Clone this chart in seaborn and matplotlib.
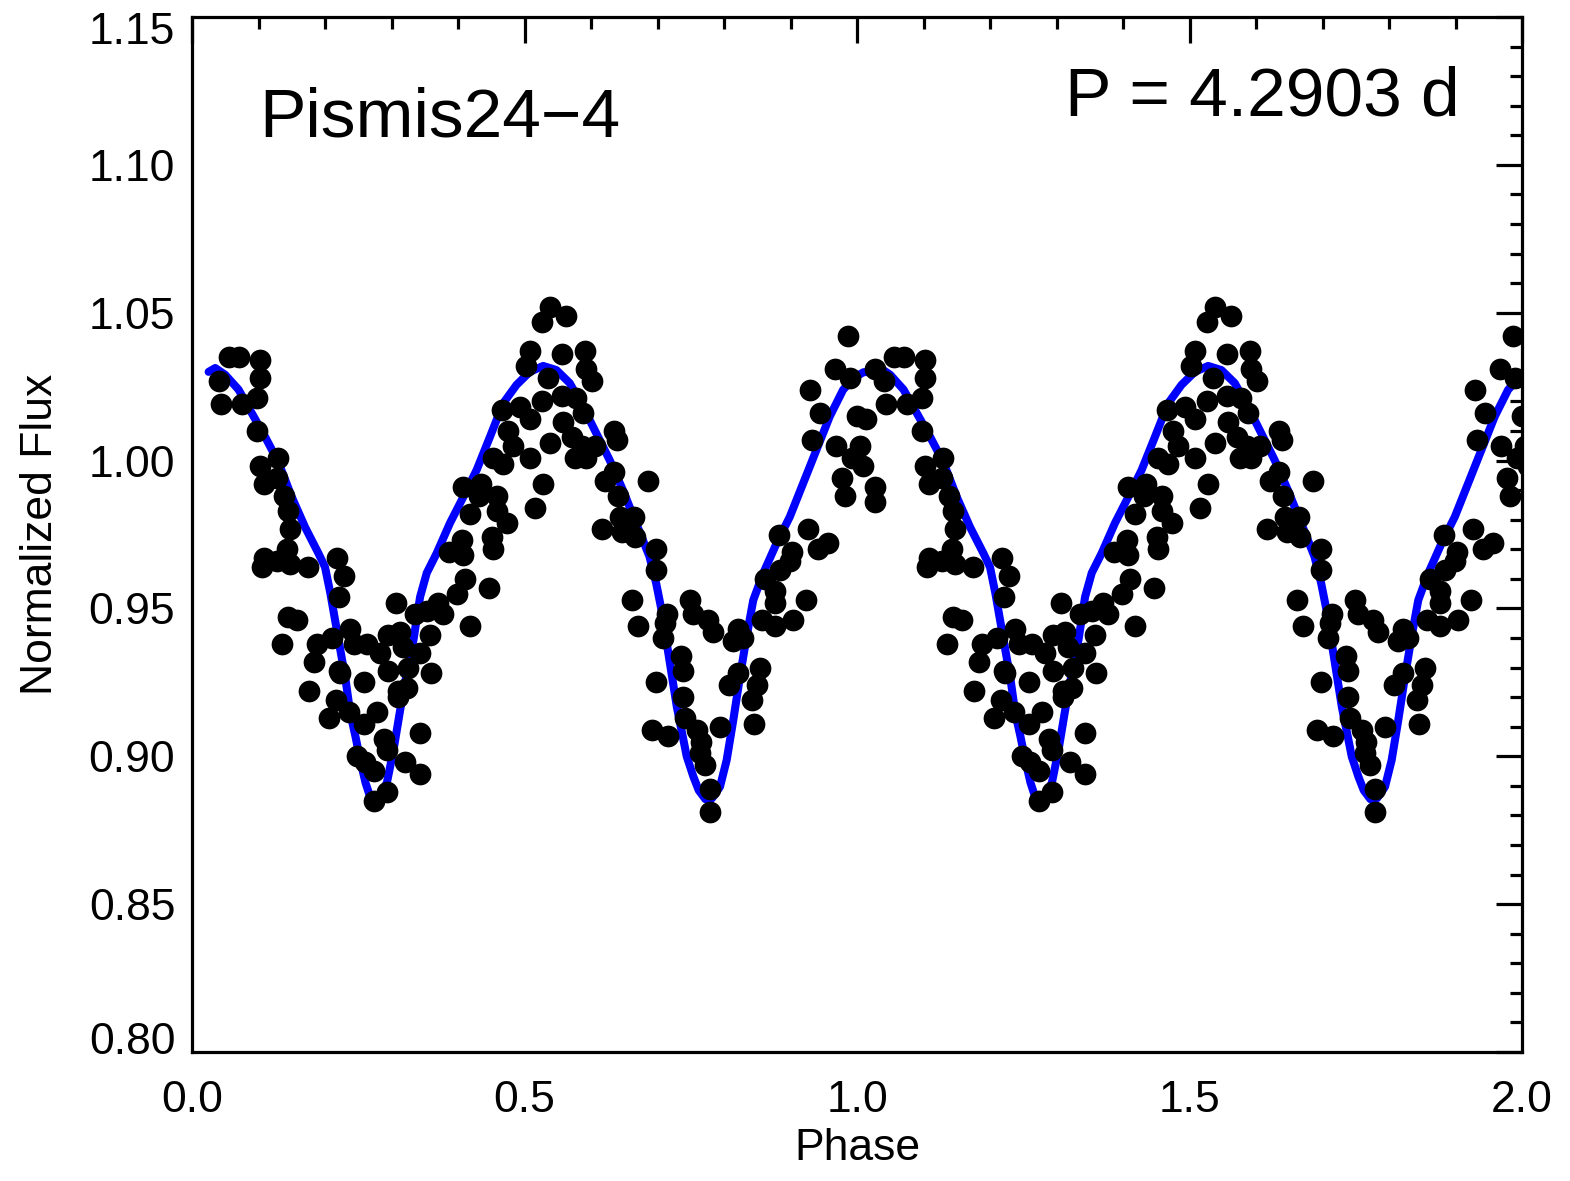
import numpy as np
import pandas as pd
import matplotlib
matplotlib.use("Agg")
import matplotlib.pyplot as plt
import matplotlib.transforms as mtransforms
from matplotlib.ticker import MultipleLocator, FixedLocator
import seaborn as sns

# ---------------- data (one cycle; plotted at phase and phase+1) ----------------
phase_obs = [
    0.040, 0.043, 0.055, 0.070, 0.075, 0.098, 0.098, 0.102, 0.102, 0.102,
    0.105, 0.108, 0.108, 0.128, 0.128, 0.129, 0.136, 0.138, 0.143, 0.145,
    0.145, 0.147, 0.147, 0.158, 0.175, 0.176, 0.183, 0.188, 0.206, 0.211,
    0.216, 0.218, 0.221, 0.221, 0.223, 0.228, 0.236, 0.238, 0.243, 0.248,
    0.258, 0.258, 0.260, 0.263, 0.273, 0.273, 0.278, 0.283, 0.288, 0.293,
    0.293, 0.295, 0.295, 0.307, 0.310, 0.310, 0.313, 0.318, 0.320, 0.323,
    0.325, 0.335, 0.343, 0.343, 0.343, 0.353, 0.358, 0.360, 0.370, 0.378,
    0.386, 0.398, 0.406, 0.407, 0.408, 0.410, 0.418, 0.418, 0.431, 0.435,
    0.446, 0.451, 0.453, 0.453, 0.458, 0.458, 0.466, 0.468, 0.473, 0.475,
    0.483, 0.493, 0.503, 0.508, 0.508, 0.508, 0.516, 0.526, 0.526, 0.528,
    0.536, 0.538, 0.538, 0.556, 0.556, 0.558, 0.563, 0.571, 0.576, 0.578,
    0.586, 0.588, 0.591, 0.593, 0.593, 0.601, 0.606, 0.616, 0.621, 0.634,
    0.634, 0.639, 0.641, 0.644, 0.646, 0.661, 0.664, 0.666, 0.671, 0.686,
    0.691, 0.698, 0.698, 0.698, 0.709, 0.711, 0.714, 0.716, 0.736, 0.739,
    0.739, 0.741, 0.749, 0.754, 0.759, 0.764, 0.766, 0.771, 0.776, 0.779,
    0.779, 0.783, 0.794, 0.807, 0.814, 0.821, 0.821, 0.829, 0.842, 0.845,
    0.849, 0.854, 0.857, 0.862, 0.877, 0.877, 0.877, 0.882, 0.884, 0.899,
    0.902, 0.904, 0.924, 0.927, 0.929, 0.932, 0.942, 0.944, 0.957, 0.967,
    0.969, 0.977, 0.982, 0.987, 0.989, 0.992, 1.000, 1.005, 1.009, 1.014,
    1.027, 1.027, 1.027,
]
flux_obs = [
    1.027, 1.019, 1.035, 1.035, 1.019, 1.021, 1.010, 1.034, 1.028, 0.998,
    0.964, 0.992, 0.967, 0.994, 0.966, 1.001, 0.938, 0.988, 0.970, 0.983,
    0.947, 0.977, 0.965, 0.946, 0.964, 0.922, 0.932, 0.938, 0.913, 0.940,
    0.919, 0.967, 0.954, 0.929, 0.928, 0.961, 0.915, 0.943, 0.938, 0.900,
    0.925, 0.911, 0.898, 0.938, 0.895, 0.885, 0.915, 0.935, 0.906, 0.902,
    0.888, 0.941, 0.929, 0.952, 0.922, 0.920, 0.942, 0.937, 0.898, 0.923,
    0.930, 0.948, 0.935, 0.908, 0.894, 0.949, 0.941, 0.928, 0.952, 0.948,
    0.969, 0.955, 0.973, 0.991, 0.968, 0.960, 0.982, 0.944, 0.988, 0.992,
    0.957, 0.974, 1.001, 0.970, 0.988, 0.983, 1.017, 0.999, 0.979, 1.010,
    1.005, 1.018, 1.032, 1.037, 1.014, 1.001, 0.984, 1.047, 1.020, 0.992,
    1.028, 1.052, 1.006, 1.036, 1.022, 1.013, 1.049, 1.008, 1.001, 1.021,
    1.005, 1.016, 1.037, 1.031, 1.001, 1.027, 1.005, 0.977, 0.993, 1.010,
    0.996, 1.007, 0.988, 0.981, 0.976, 0.953, 0.981, 0.974, 0.944, 0.993,
    0.909, 0.970, 0.963, 0.925, 0.940, 0.945, 0.948, 0.907, 0.934, 0.929,
    0.920, 0.913, 0.953, 0.948, 0.909, 0.901, 0.905, 0.897, 0.946, 0.889,
    0.881, 0.942, 0.910, 0.924, 0.939, 0.943, 0.928, 0.940, 0.919, 0.911,
    0.924, 0.930, 0.946, 0.960, 0.952, 0.956, 0.944, 0.975, 0.963, 0.966,
    0.969, 0.946, 0.953, 0.977, 1.024, 1.007, 0.970, 1.016, 0.972, 1.031,
    1.005, 0.994, 0.988, 1.042, 1.028, 1.001, 1.015, 1.005, 0.998, 1.014,
    1.031, 0.991, 0.986,
]

model_phase = [
    0.025, 0.035, 0.050, 0.070, 0.090, 0.110, 0.130, 0.150, 0.170, 0.190,
    0.200, 0.208, 0.216, 0.223, 0.231, 0.238, 0.246, 0.253, 0.261, 0.268,
    0.274, 0.282, 0.293, 0.303, 0.313, 0.323, 0.333, 0.343, 0.353, 0.368,
    0.388, 0.408, 0.428, 0.448, 0.468, 0.488, 0.508, 0.528, 0.548, 0.568,
    0.588, 0.608, 0.628, 0.648, 0.668, 0.688, 0.698, 0.706, 0.714, 0.722,
    0.729, 0.737, 0.744, 0.754, 0.762, 0.772, 0.782, 0.794, 0.804, 0.814,
    0.824, 0.834, 0.844, 0.859, 0.879, 0.899, 0.919, 0.939, 0.959, 0.979,
    0.995, 1.010, 1.025,
]
model_flux = [
    1.0300, 1.0313, 1.0290, 1.0240, 1.0160, 1.0080, 0.9994, 0.9877, 0.9775, 0.9687,
    0.9640, 0.9552, 0.9450, 0.9359, 0.9258, 0.9146, 0.9065, 0.8987, 0.8910, 0.8862,
    0.8848, 0.8865, 0.8910, 0.9021, 0.9156, 0.9281, 0.9393, 0.9539, 0.9620, 0.9687,
    0.9789, 0.9877, 0.9968, 1.0080, 1.0194, 1.0256, 1.0300, 1.0320, 1.0306, 1.0262,
    1.0182, 1.0092, 1.0002, 0.9900, 0.9788, 0.9675, 0.9585, 0.9495, 0.9382, 0.9269,
    0.9168, 0.9078, 0.8999, 0.8931, 0.8885, 0.8855, 0.8858, 0.8897, 0.8987, 0.9123,
    0.9269, 0.9405, 0.9528, 0.9619, 0.9720, 0.9810, 0.9923, 1.0036, 1.0149, 1.0239,
    1.0280, 1.0299, 1.0300,
]

star_name = "Pismis24\u22124"
period_text = "P = 4.2903 d"
x_ticks = [0.0, 0.5, 1.0, 1.5, 2.0]
x_tick_labels = ["0.0", "0.5", "1.0", "1.5", "2.0"]
y_ticks = [0.80, 0.85, 0.90, 0.95, 1.00, 1.05, 1.10, 1.15]
y_tick_labels = ["0.80", "0.85", "0.90", "0.95", "1.00", "1.05", "1.10", "1.15"]
x_label = "Phase"
y_label = "Normalized Flux"

# ---------------- style ----------------
sns.set_theme(style="white", rc={
    "axes.edgecolor": "black", "text.color": "black", "axes.labelcolor": "black",
    "xtick.color": "black", "ytick.color": "black",
})
plt.rcParams['font.family'] = ['Liberation Sans', 'DejaVu Sans']

W, H = 1570, 1181
fig = plt.figure(figsize=(W / 100, H / 100), dpi=100)
ax = fig.add_axes([192 / W, 1 - 1052 / H, 1330 / W, 1035 / H])

p = np.array(phase_obs)
f = np.array(flux_obs)
obs = pd.DataFrame({"phase": np.concatenate([p, p + 1.0]),
                    "flux": np.concatenate([f, f])})
mp = np.array(model_phase)
mf = np.array(model_flux)
mod = pd.DataFrame({"phase": np.concatenate([mp, mp[1:] + 1.0]),
                    "flux": np.concatenate([mf, mf[1:]])})

sns.lineplot(data=mod, x="phase", y="flux", color=(0, 0, 1), linewidth=5.8,
             sort=False, estimator=None, ax=ax, zorder=2)
sns.scatterplot(data=obs, x="phase", y="flux", color="black", s=245,
                linewidth=0, ax=ax, zorder=3)

ax.set_xlim(0.0, 2.0)
ax.set_ylim(0.80, 1.15)
ax.xaxis.set_major_locator(FixedLocator(x_ticks))
ax.set_xticklabels(x_tick_labels)
ax.yaxis.set_major_locator(FixedLocator(y_ticks))
ax.set_yticklabels(y_tick_labels)
ax.xaxis.set_minor_locator(MultipleLocator(0.1))
ax.yaxis.set_minor_locator(MultipleLocator(0.01))
ax.tick_params(which='both', direction='in', top=True, right=True,
               width=2.3, color='black')
ax.tick_params(which='major', length=18.7)
ax.tick_params(which='minor', length=8.6)
ax.tick_params(axis='x', which='major', pad=20, labelsize=32)
ax.tick_params(axis='y', which='major', pad=12, labelsize=32)
for s in ax.spines.values():
    s.set_linewidth(2.3)
    s.set_color('black')
    s.set_visible(True)

ylabels = ax.get_yticklabels()
ylabels[-1].set_transform(ylabels[-1].get_transform() +
                          mtransforms.ScaledTranslation(0, -0.11, fig.dpi_scale_trans))
ylabels[0].set_transform(ylabels[0].get_transform() +
                         mtransforms.ScaledTranslation(0, 0.14, fig.dpi_scale_trans))

ax.set_xlabel(x_label, fontsize=32)
ax.xaxis.set_label_coords(0.5, -0.0734)
ax.set_ylabel(y_label, fontsize=32)
ax.yaxis.set_label_coords((61 - 192) / 1330, 0.5)

ax.text(0.0504, 0.8843, star_name, transform=ax.transAxes, fontsize=50,
        ha='left', va='baseline')
ax.text(0.9534, 0.9053, period_text, transform=ax.transAxes, fontsize=50,
        ha='right', va='baseline')

fig.savefig("out.png", dpi=100)
